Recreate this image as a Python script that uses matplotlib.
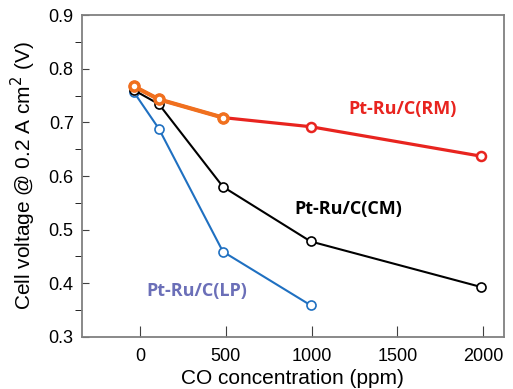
import matplotlib
matplotlib.use("Agg")
import matplotlib.pyplot as plt
from matplotlib.ticker import MultipleLocator

# CO concentration (ppm), as placed on the picture
co_rm = [-35, 110, 483, 994, 1988]
co_cm = [-35, 110, 483, 994, 1988]
co_lp = [-35, 110, 483, 994]

# cell voltage (V)
v_rm = [0.767, 0.743, 0.709, 0.692, 0.637]
v_cm = [0.760, 0.734, 0.580, 0.478, 0.393]
v_lp = [0.756, 0.688, 0.459, 0.359]

xticks = [0, 500, 1000, 1500, 2000]

plt.rcParams['font.family'] = ['Liberation Sans', 'DejaVu Sans']

fig = plt.figure(figsize=(5.13, 3.89), dpi=100)
ax = fig.add_axes([0.160, 0.134, 0.822, 0.827])

mk = dict(marker='o', markerfacecolor='white', markersize=6.5)

ax.plot(co_lp, v_lp, color='#1f70c1', lw=1.5, markeredgewidth=1.2, **mk)
ax.plot(co_cm, v_cm, color='black', lw=1.5, markeredgewidth=1.2, **mk)
ax.plot(co_rm, v_rm, color='#e8241f', lw=2.3, markeredgewidth=1.8, **mk)
# orange overlay on the first three RM points
ax.plot(co_rm[:3], v_rm[:3], color='#f0701e', lw=3, markeredgewidth=2.5, **mk)

lab = dict(fontsize=13, fontweight='bold', family=['Open Sans', 'DejaVu Sans'])
ax.text(1530, 0.725, 'Pt-Ru/C(RM)', color='#e8241f', ha='center', va='center', **lab)
ax.text(1215, 0.538, 'Pt-Ru/C(CM)', color='black', ha='center', va='center', **lab)
ax.text(330, 0.385, 'Pt-Ru/C(LP)', color='#6b6fb8', ha='center', va='center', **lab)

ax.set_xlim(-338, 2120)
ax.set_ylim(0.3, 0.9)
ax.set_xticks(xticks)
ax.yaxis.set_major_locator(MultipleLocator(0.1))
ax.yaxis.set_minor_locator(MultipleLocator(0.05))
ax.tick_params(axis='both', direction='in', labelsize=13, color='#404040')
ax.tick_params(axis='x', length=8, pad=8)
ax.tick_params(axis='y', which='both', length=5, pad=6)
for s in ax.spines.values():
    s.set_color('#808080')
    s.set_linewidth(1.3)

ax.set_xlabel('CO concentration (ppm)', fontsize=15, labelpad=3)
ax.set_ylabel('Cell voltage @ 0.2 A cm$^2$ (V)', fontsize=15, labelpad=8)

fig.savefig('out.png', dpi=100)
